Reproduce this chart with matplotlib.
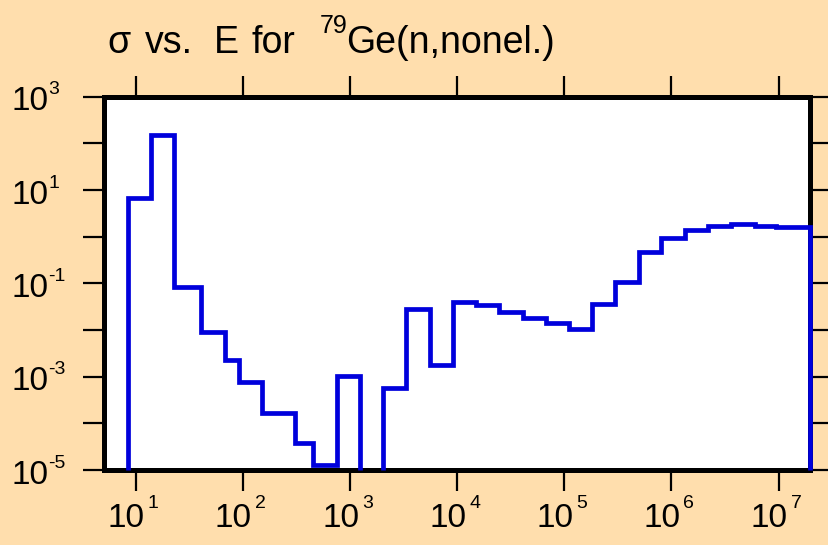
import numpy as np
import matplotlib
matplotlib.use("Agg")
import matplotlib.pyplot as plt
from matplotlib.ticker import FixedLocator, NullLocator, NullFormatter

plt.rcParams['font.family'] = ['Liberation Sans', 'DejaVu Sans']

# data: group edges (eV) and cross section (b)
edges = [8.4, 13.9, 22.6, 40.4, 68, 92, 150, 304, 454, 750,
         1236, 2042, 3318, 5560, 9050, 14940, 24650, 40740, 67200, 110200,
         180600, 298000, 499000, 807000, 1.33e6, 2.19e6, 3.63e6, 5.98e6, 9.55e6, 1.96e7]
sigma = [6.8, 151, 0.082, 0.0092, 0.00228, 7.8e-4, 1.66e-4, 3.7e-5, 1.3e-5, 1.03e-3,
         0.0, 5.8e-4, 0.0277, 1.75e-3, 0.0404, 0.0344, 0.0247, 0.0184, 0.0139, 0.0103,
         0.0355, 0.108, 0.477, 0.95, 1.39, 1.72, 1.87, 1.72, 1.64]

x_exps = [1, 2, 3, 4, 5, 6, 7]
y_exps = [-5, -4, -3, -2, -1, 0, 1, 2, 3]
y_label_exps = [-5, -3, -1, 1, 3]

title_words = ['σ', 'vs.', 'E', 'for']
title_word_px = [107, 145, 214, 252]

bg = '#ffdead'

fig = plt.figure(figsize=(8.29, 5.45), dpi=100, facecolor=bg)
ax = fig.add_axes([0.1255, 0.1376, 0.8515, 0.685])
ax.set_xscale('log')
ax.set_yscale('log')
ax.set_xlim(5.06, 1.96e7)
ax.set_ylim(1e-5, 1e3)

vals = np.array(sigma, dtype=float)
vals = np.where(vals > 0, vals, np.nan)   # zero cross section -> gap
ax.stairs(vals, edges, baseline=1e-5, fill=False, color='#0000dc',
          lw=3.4, clip_on=False, zorder=3)

for s in ax.spines.values():
    s.set_linewidth(3.6)

ax.xaxis.set_major_locator(FixedLocator([10.0 ** e for e in x_exps]))
ax.xaxis.set_minor_locator(NullLocator())
ax.yaxis.set_major_locator(FixedLocator([10.0 ** e for e in y_exps]))
ax.yaxis.set_minor_locator(NullLocator())
ax.xaxis.set_major_formatter(NullFormatter())
ax.yaxis.set_major_formatter(NullFormatter())
ax.tick_params(which='both', direction='out', length=15, width=1.6,
               top=True, right=True)

# tick labels: "10" plus a small raised exponent
base_fs, exp_fs = 24, 14
for e in x_exps:
    ax.annotate('10', xy=(10.0 ** e, 0), xycoords=('data', 'axes fraction'),
                xytext=(9, -56.7), textcoords='offset pixels',
                ha='right', va='baseline', fontsize=base_fs)
    ax.annotate(str(e), xy=(10.0 ** e, 0), xycoords=('data', 'axes fraction'),
                xytext=(12, -38.3), textcoords='offset pixels',
                ha='left', va='baseline', fontsize=exp_fs)
for e in y_label_exps:
    ax.annotate('10', xy=(0, 10.0 ** e), xycoords=('axes fraction', 'data'),
                xytext=(-92.6, -13.8), textcoords='offset pixels',
                ha='left', va='baseline', fontsize=base_fs)
    ax.annotate(str(e), xy=(0, 10.0 ** e), xycoords=('axes fraction', 'data'),
                xytext=(-56, 2.2), textcoords='offset pixels',
                ha='left', va='baseline', fontsize=exp_fs)

# title
title_y = 1 - 53.3 / 545
for w, px in zip(title_words, title_word_px):
    fig.text(px / 829, title_y, w, fontsize=27, ha='left', va='baseline')
fig.text(320 / 829, 1 - 33.3 / 545, '79', fontsize=18, ha='left', va='baseline')
fig.text(346 / 829, title_y, 'Ge(n,nonel.)', fontsize=27, ha='left', va='baseline')

fig.savefig('out.png', dpi=100, facecolor=bg)
